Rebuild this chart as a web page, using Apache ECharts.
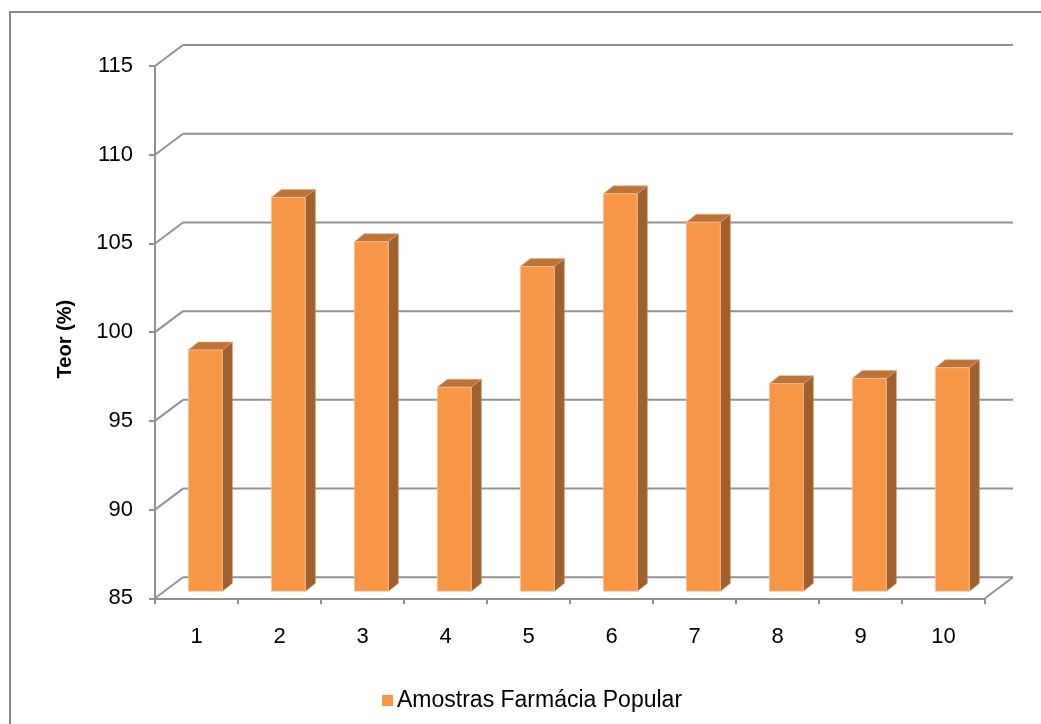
<!DOCTYPE html>
<html>
<head>
<meta charset="utf-8">
<script src="https://cdn.jsdelivr.net/npm/echarts@6/dist/echarts.min.js"></script>
<style>
  html, body { margin: 0; padding: 0; background: #fff; }
  #chart { width: 1041px; height: 724px; }
</style>
</head>
<body>
<div id="chart"></div>
<script>
// Sample labels and measured content (%)
const categories = ['1', '2', '3', '4', '5', '6', '7', '8', '9', '10'];
const teor = [98.6, 107.2, 104.7, 96.5, 103.3, 107.4, 105.8, 96.7, 97.0, 97.6];
const gridValues = [85, 90, 95, 100, 105, 110, 115];
const seriesName = 'Amostras Farmácia Popular';
const axisName = 'Teor (%)';

const FONT = '"Liberation Sans", Arial, sans-serif';
const GRID_COLOR = '#929292';
// depth of the 3D box (back wall offset) and of the bars
const DEPTH_X = 28, DEPTH_Y = -21;
const BAR_SHIFT_X = 8.8, BAR_SHIFT_Y = -7;
const BAR_W = 34, BAR_DX = 10, BAR_DY = -8;

const chart = echarts.init(document.getElementById('chart'));

function renderWalls(params, api) {
  const v = api.value(0);
  const n = categories.length;
  const bw = api.size([1, 0])[0];
  const pL = api.coord([0, v]);
  const pR = api.coord([n - 1, v]);
  const xl = pL[0] - bw / 2;
  const xr = pR[0] + bw / 2;
  const y = pL[1];
  const style = { stroke: GRID_COLOR, lineWidth: 2, fill: null };
  const children = [
    { type: 'line', shape: { x1: xl, y1: y, x2: xl + DEPTH_X, y2: y + DEPTH_Y }, style },
    { type: 'line', shape: { x1: xl + DEPTH_X, y1: y + DEPTH_Y, x2: xr + DEPTH_X, y2: y + DEPTH_Y }, style }
  ];
  if (v === gridValues[0]) {
    children.push({ type: 'line', shape: { x1: xr, y1: y, x2: xr + DEPTH_X, y2: y + DEPTH_Y }, style });
  }
  return { type: 'group', children };
}

function renderBar(params, api) {
  const i = api.value(0);
  const top = api.coord([i, api.value(1)]);
  const base = api.coord([i, gridValues[0]]);
  const x0 = top[0] + BAR_SHIFT_X - BAR_W / 2;
  const x1 = x0 + BAR_W;
  const yt = top[1] + BAR_SHIFT_Y;
  const yb = base[1] + BAR_SHIFT_Y;
  return {
    type: 'group',
    children: [
      { type: 'polygon', shape: { points: [[x1, yt], [x1 + BAR_DX, yt + BAR_DY], [x1 + BAR_DX, yb + BAR_DY], [x1, yb]] },
        style: { fill: '#9E602C', stroke: '#c98a5a', lineWidth: 0.6 } },
      { type: 'polygon', shape: { points: [[x0, yt], [x0 + BAR_DX, yt + BAR_DY], [x1 + BAR_DX, yt + BAR_DY], [x1, yt]] },
        style: { fill: '#BE7337', stroke: '#e0aa80', lineWidth: 0.6 } },
      { type: 'rect', shape: { x: x0, y: yt, width: BAR_W, height: yb - yt },
        style: { fill: '#F79646', stroke: '#fbd2b0', lineWidth: 0.6 } }
    ]
  };
}

chart.setOption({
  animation: false,
  backgroundColor: '#ffffff',
  textStyle: { fontFamily: FONT },
  graphic: [{
    type: 'rect', z: -10,
    shape: { x: 10, y: 12, width: 1100, height: 800 },
    style: { fill: null, stroke: '#8a8a8a', lineWidth: 2 }
  }],
  grid: { left: 155, right: 56, top: 66, bottom: 125.7, containLabel: false },
  legend: {
    data: [seriesName],
    left: 377, top: 684,
    icon: 'rect', itemWidth: 11, itemHeight: 11, itemGap: 5,
    textStyle: { fontFamily: FONT, fontSize: 23, color: '#000', padding: [0, 0, 0, -1] }
  },
  xAxis: {
    type: 'category',
    data: categories,
    boundaryGap: true,
    axisLine: { lineStyle: { color: GRID_COLOR, width: 2 } },
    axisTick: { show: true, length: 6, inside: false, lineStyle: { color: GRID_COLOR, width: 2 } },
    axisLabel: { margin: 28, fontSize: 22, color: '#000', fontFamily: FONT },
    splitLine: { show: false }
  },
  yAxis: {
    type: 'value',
    min: 85, max: 115, interval: 5,
    name: axisName,
    nameLocation: 'middle',
    nameGap: 80,
    nameRotate: 90,
    nameTextStyle: { fontWeight: 'bold', fontSize: 20, color: '#000', fontFamily: FONT, padding: [0, 14, 0, 0] },
    axisLine: { show: true, lineStyle: { color: GRID_COLOR, width: 2 } },
    axisTick: { show: true, length: 6, lineStyle: { color: GRID_COLOR, width: 2 } },
    axisLabel: { margin: 22, fontSize: 22, color: '#000', fontFamily: FONT },
    splitLine: { show: false }
  },
  series: [
    {
      type: 'custom',
      name: 'walls',
      silent: true,
      z: 1,
      data: gridValues.map(v => [v]),
      encode: { y: 0 },
      renderItem: renderWalls
    },
    {
      type: 'custom',
      name: seriesName,
      z: 3,
      itemStyle: { color: '#F79646' },
      data: teor.map((v, i) => [i, v]),
      encode: { x: 0, y: 1 },
      renderItem: renderBar
    }
  ]
});
</script>
</body>
</html>
